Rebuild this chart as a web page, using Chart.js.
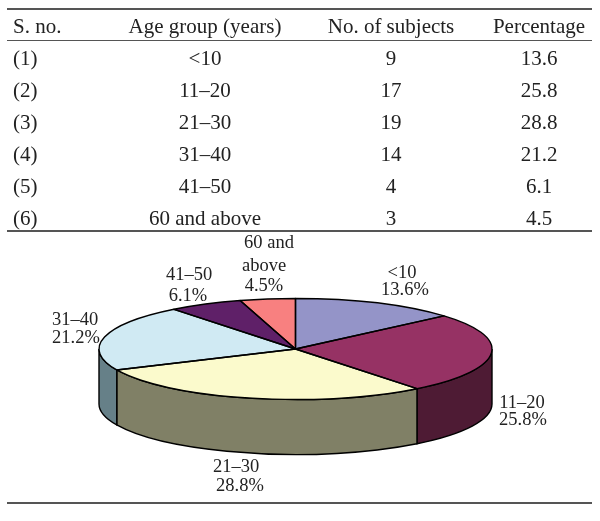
<!DOCTYPE html>
<html>
<head>
<meta charset="utf-8">
<script src="https://cdn.jsdelivr.net/npm/chart.js@4"></script>
<style>
  html, body { margin: 0; background: #fff; }
  #page { position: relative; width: 600px; height: 521px; overflow: hidden; font-family: "Liberation Serif", serif; color: #222; }
  canvas { position: absolute; left: 0; top: 0; }
  .rule { position: absolute; left: 7px; width: 585px; background: #555; }
  .cell { position: absolute; font-size: 21px; line-height: 24px; white-space: nowrap; transform: translateX(-50%); }
  .cell.left { transform: none; }
</style>
</head>
<body>
<div id="page">
  <canvas id="pie" width="600" height="521"></canvas>
  <div class="rule" style="top:8px;height:2px"></div>
  <div class="rule" style="top:40px;height:1px"></div>
  <div class="rule" style="top:230px;height:2px"></div>
  <div class="rule" style="top:502px;height:2px"></div>
</div>
<script>
const headers = ['S. no.', 'Age group (years)', 'No. of subjects', 'Percentage'];
const serials = ['(1)', '(2)', '(3)', '(4)', '(5)', '(6)'];
const ageGroups = ['<10', '11–20', '21–30', '31–40', '41–50', '60 and above'];
const subjects = [9, 17, 19, 14, 4, 3];
const percentages = ['13.6', '25.8', '28.8', '21.2', '6.1', '4.5'];

const topColors = ['#9494C8', '#963264', '#FBFACC', '#D0EAF3', '#5F2068', '#F88080'];
const wallColors = ['#4A4A64', '#4E1B34', '#808066', '#668088', '#301034', '#804040'];

// table, rows are 32px apart
const page = document.getElementById('page');
const colX = [13, 205, 391, 539];
function addCell(text, col, y) {
  const el = document.createElement('div');
  el.className = col === 0 ? 'cell left' : 'cell';
  el.textContent = text;
  el.style.left = colX[col] + 'px';
  el.style.top = y + 'px';
  page.appendChild(el);
}
headers.forEach((h, c) => addCell(h, c, 14));
serials.forEach((s, i) => {
  const y = 46 + i * 32;
  addCell(s, 0, y);
  addCell(ageGroups[i], 1, y);
  addCell(String(subjects[i]), 2, y);
  addCell(percentages[i], 3, y);
});

// the pie is a normal Chart.js pie, squashed into an ellipse by the plugin
const pieCenterY = 349;
const squash = 0.257;
const depth = 55;

// label lines and where they go, same order as the slices
const labelLines = [
  [ageGroups[0], percentages[0] + '%'],
  [ageGroups[1], percentages[1] + '%'],
  [ageGroups[2], percentages[2] + '%'],
  [ageGroups[3], percentages[3] + '%'],
  [ageGroups[4], percentages[4] + '%'],
  ['60 and', 'above', percentages[5] + '%']
];
const labelSpots = [
  [[402, 273], [405, 290]],
  [[522, 403], [523, 420]],
  [[236, 467], [240, 486]],
  [[75, 320], [76, 338]],
  [[189, 275], [188, 296]],
  [[269, 243], [264, 266], [264, 286]]
];

const pie3d = {
  id: 'pie3d',
  beforeDatasetsDraw(chart) {
    const ctx = chart.ctx;
    const arcs = chart.getDatasetMeta(0).data;
    ctx.save();
    ctx.lineWidth = 1.4;
    ctx.strokeStyle = '#000';
    arcs.forEach((arc, i) => {
      const rx = arc.outerRadius;
      const ry = rx * squash;
      const a0 = Math.max(arc.startAngle, 0);
      const a1 = Math.min(arc.endAngle, Math.PI);
      if (a0 >= a1) return;
      ctx.beginPath();
      ctx.ellipse(arc.x, pieCenterY, rx, ry, 0, a0, a1);
      ctx.ellipse(arc.x, pieCenterY + depth, rx, ry, 0, a1, a0, true);
      ctx.closePath();
      ctx.fillStyle = wallColors[i];
      ctx.fill();
      ctx.stroke();
    });
    ctx.restore();
    ctx.save();
    ctx.translate(0, pieCenterY);
    ctx.scale(1, squash);
    ctx.translate(0, -arcs[0].y);
  },
  afterDatasetsDraw(chart) {
    const ctx = chart.ctx;
    ctx.restore();
    const arcs = chart.getDatasetMeta(0).data;
    ctx.save();
    ctx.lineWidth = 1.4;
    ctx.strokeStyle = '#000';
    ctx.lineJoin = 'round';
    arcs.forEach(arc => {
      const rx = arc.outerRadius;
      ctx.beginPath();
      ctx.moveTo(arc.x, pieCenterY);
      ctx.ellipse(arc.x, pieCenterY, rx, rx * squash, 0, arc.startAngle, arc.endAngle);
      ctx.closePath();
      ctx.stroke();
    });
    ctx.fillStyle = '#222';
    ctx.font = '18.5px "Liberation Serif", serif';
    ctx.textAlign = 'center';
    ctx.textBaseline = 'middle';
    labelLines.forEach((lines, i) => {
      lines.forEach((line, j) => ctx.fillText(line, labelSpots[i][j][0], labelSpots[i][j][1]));
    });
    ctx.restore();
  }
};

new Chart(document.getElementById('pie').getContext('2d'), {
  type: 'pie',
  data: {
    labels: ageGroups,
    datasets: [{
      data: subjects,
      backgroundColor: topColors,
      borderWidth: 0,
      clip: false
    }]
  },
  options: {
    responsive: false,
    animation: false,
    events: [],
    layout: { padding: { left: 99, right: 108, top: 64, bottom: 64 } },
    plugins: {
      legend: { display: false },
      tooltip: { enabled: false }
    }
  },
  plugins: [pie3d]
});
</script>
</body>
</html>
